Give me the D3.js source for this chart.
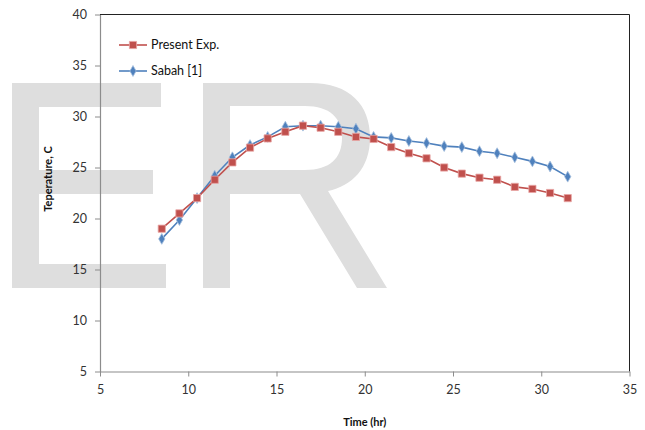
<!DOCTYPE html>
<html>
<head>
<meta charset="utf-8">
<script src="https://cdn.jsdelivr.net/npm/d3@7"></script>
<style>
  body { margin: 0; background: #fff; }
  svg { display: block; font-family: Lato, "Open Sans", sans-serif; }
</style>
</head>
<body>
<div id="chart"></div>
<script>
// ---- data ----
const timeHours = [8.5, 9.5, 10.5, 11.5, 12.5, 13.5, 14.5, 15.5, 16.5, 17.5, 18.5, 19.5,
  20.5, 21.5, 22.5, 23.5, 24.5, 25.5, 26.5, 27.5, 28.5, 29.5, 30.5, 31.5];
const presentExp = [19.0, 20.5, 22.0, 23.8, 25.5, 26.95, 27.85, 28.5, 29.1, 28.9, 28.5, 28.0,
  27.8, 27.0, 26.4, 25.9, 25.0, 24.4, 24.0, 23.8, 23.1, 22.9, 22.5, 22.0];
const sabah = [18.0, 19.85, 22.0, 24.2, 26.0, 27.2, 28.0, 29.0, 29.1, 29.1, 29.0, 28.8,
  28.0, 27.9, 27.6, 27.4, 27.1, 27.0, 26.6, 26.4, 26.0, 25.6, 25.1, 24.1];
const xTicks = [5, 10, 15, 20, 25, 30, 35];
const yTicks = [5, 10, 15, 20, 25, 30, 35, 40];
const seriesNames = ['Present Exp.', 'Sabah [1]'];

const width = 645, height = 430;
const margin = {top: 14.5, right: 15.5, bottom: 58.5, left: 100};

const svg = d3.select('#chart').append('svg')
  .attr('width', width)
  .attr('height', height);

// ---- background "ER" watermark ----
const wm = svg.append('g').attr('fill', '#dedede');
// E
wm.append('path')
  .attr('d', 'M12,83 H161 V107 H39 V170 H153 V194 H39 V264 H166 V288 H12 Z');
// R
wm.append('path')
  .attr('fill-rule', 'evenodd')
  .attr('d', 'M203,83 H310 C350,83 370,105 370,138 C370,168 352,186 328,191 L387,288 H357 L300,194 H230 V288 H203 Z ' +
    'M230,106 V170 H305 C330,170 342,158 342,138 C342,118 330,106 305,106 Z');

const innerW = width - margin.left - margin.right;
const innerH = height - margin.top - margin.bottom;

const xScale = d3.scaleLinear().domain([5, 35]).range([0, innerW]);
const yScale = d3.scaleLinear().domain([5, 40]).range([innerH, 0]);

const chart = svg.append('g')
  .attr('transform', `translate(${margin.left},${margin.top})`);

// plot area border (top/right dark)
chart.append('path')
  .attr('d', `M0,0 H${innerW} V${innerH}`)
  .attr('fill', 'none')
  .attr('stroke', '#222')
  .attr('stroke-width', 1);

const xAxis = d3.axisBottom(xScale).tickValues(xTicks).tickSize(5).tickSizeOuter(0).tickPadding(9);
const yAxis = d3.axisLeft(yScale).tickValues(yTicks).tickSize(5).tickSizeOuter(0).tickPadding(8);

const xAxisGroup = chart.append('g')
  .attr('transform', `translate(0,${innerH})`)
  .call(xAxis);
const yAxisGroup = chart.append('g').call(yAxis);

[xAxisGroup, yAxisGroup].forEach(g => {
  g.selectAll('.domain').attr('stroke', '#8c8c8c').attr('stroke-width', 1.2);
  g.selectAll('.tick line').attr('stroke', '#8c8c8c');
  g.selectAll('.tick text')
    .attr('fill', '#333')
    .style('font-size', '12.5px')
    .style('font-family', 'Lato, "Open Sans", sans-serif');
});

// axis titles
svg.append('text')
  .attr('x', margin.left + innerW / 2)
  .attr('y', 426)
  .attr('text-anchor', 'middle')
  .style('font-size', '11px')
  .style('font-weight', 'bold')
  .attr('fill', '#111')
  .text('Time (hr)');

svg.append('text')
  .attr('transform', 'translate(52,179) rotate(-90)')
  .attr('text-anchor', 'middle')
  .style('font-size', '11px')
  .style('font-weight', 'bold')
  .attr('fill', '#111')
  .text('Teperature, C');

// ---- series ----
const series = [
  {name: seriesNames[0], values: presentExp, color: '#c0504d', halo: '#e8a6a4', marker: d3.symbolSquare, size: 52},
  {name: seriesNames[1], values: sabah, color: '#4f81bd', halo: '#a7c0de', marker: d3.symbolDiamond, size: 34}
];

const line = d3.line()
  .x(d => xScale(d.t))
  .y(d => yScale(d.v));

// draw blue first then red? red appears on top of blue mostly near the start
series.slice().reverse().forEach(s => {
  const pts = timeHours.map((t, i) => ({t, v: s.values[i]}));
  chart.append('path')
    .datum(pts)
    .attr('fill', 'none')
    .attr('stroke', s.color)
    .attr('stroke-width', 1.6)
    .attr('d', line);

  chart.selectAll(null)
    .data(pts)
    .enter()
    .append('path')
    .attr('transform', d => `translate(${xScale(d.t)},${yScale(d.v)})`)
    .attr('d', d3.symbol().type(s.marker).size(s.size))
    .attr('fill', s.color)
    .attr('stroke', s.halo)
    .attr('stroke-width', 0.8);
});

// ---- legend ----
const legend = svg.append('g');
series.forEach((s, i) => {
  const y = 45 + i * 26;
  legend.append('line')
    .attr('x1', 119).attr('x2', 147)
    .attr('y1', y).attr('y2', y)
    .attr('stroke', s.color)
    .attr('stroke-width', 1.6);
  legend.append('path')
    .attr('transform', `translate(133,${y})`)
    .attr('d', d3.symbol().type(s.marker).size(s.size))
    .attr('fill', s.color)
    .attr('stroke', s.halo)
    .attr('stroke-width', 0.8);
  legend.append('text')
    .attr('x', 151)
    .attr('y', y)
    .attr('dy', '0.35em')
    .style('font-size', '12.5px')
    .attr('fill', '#111')
    .text(s.name);
});
</script>
</body>
</html>
